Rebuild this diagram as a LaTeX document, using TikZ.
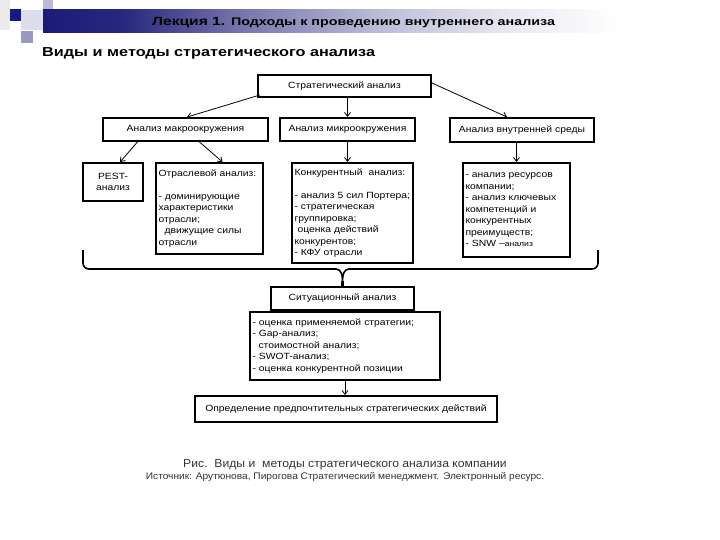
\documentclass[tikz,border=0pt]{standalone}
\usepackage{fontspec}
\setmainfont{Liberation Sans}
\newfontfamily\boxfont[FakeStretch=1.15]{Liberation Sans}
\newfontfamily\hdrfont[FakeStretch=1.3]{Liberation Sans}
\newfontfamily\ttlfont[FakeStretch=1.25]{Liberation Sans}
\newfontfamily\capfont[FakeStretch=1.06]{Liberation Sans}
\usetikzlibrary{arrows.meta,calc}
\definecolor{navy}{RGB}{28,28,120}
\pgfdeclarehorizontalshading{hdrshade}{100bp}{color(0bp)=(navy); color(25bp)=(navy); color(31bp)=(navy!95!white); color(40bp)=(navy!60!white); color(50bp)=(navy!30!white); color(60bp)=(navy!10!white); color(68bp)=(white); color(100bp)=(white)}
\tikzset{
  box/.style={draw=black, line width=1.9pt, inner ysep=0pt, inner xsep=2pt, font=\boxfont\fontsize{9}{11.5}\selectfont},
  arr/.style={-{Straight Barb[length=4pt,width=6pt]}, line width=0.8pt},
}
\begin{document}
\begin{tikzpicture}[x=1pt,y=-1pt]
\useasboundingbox (0,0) rectangle (720,540);
% decoration
\fill[black!8] (0,0) rectangle (10,30);
\fill[navy!15] (21,10) rectangle (43,30);
\fill[navy!30] (43,0) rectangle (53,23);
\fill[navy!45] (21,31) rectangle (33,43);
\shade[shading=hdrshade] (43,10) rectangle (710,33);
\fill[navy!90!blue] (10,9) rectangle (21,21);
% header
\node[anchor=base west, font=\hdrfont\bfseries\fontsize{12}{13}\selectfont, inner sep=0pt] (hdr) at (152,26) {Лекция 1. {\fontsize{11}{12}\selectfont Подходы к проведению внутреннего анализа}};
\node[anchor=base west, font=\ttlfont\bfseries\fontsize{13}{14}\selectfont, inner sep=0pt] (title) at (42,57) {Виды и методы стратегического анализа};
% boxes
\node[box, minimum width=173pt, minimum height=22pt] (strat) at (344.5,86) {Стратегический анализ};
\node[box, minimum width=165pt, minimum height=23pt] (macro) at (185.5,129.5) {Анализ макроокружения};
\node[box, minimum width=135pt, minimum height=23pt] (micro) at (347.5,129.5) {Анализ микроокружения};
\node[box, minimum width=144pt, minimum height=24pt] (inner) at (522,130) {Анализ внутренней среды};
\node[box, minimum width=60pt, minimum height=38pt, align=center] (pest) at (113,182) {PEST-\\анализ};
\node[box, minimum width=107pt, minimum height=91pt, text width=102pt, align=left] (otr) at (209.5,208.5) {Отраслевой анализ:\\[11.5pt]- доминирующие\\характеристики\\отрасли;\\\ \ движущие силы\\отрасли};
\node[box, minimum width=121pt, minimum height=100pt, text width=116pt, align=left] (konk) at (352.5,213) {Конкурентный\ \ анализ:\\[11.5pt]- анализ 5 сил Портера;\\- стратегическая\\группировка;\\\ оценка действий\\конкурентов;\\- КФУ отрасли};
\node[box, minimum width=107pt, minimum height=94pt, text width=102pt, align=left] (vlist) at (516.5,210) {- анализ ресурсов\\компании;\\- анализ ключевых\\компетенций и\\конкурентных\\преимуществ;\\- SNW –{\fontsize{7.5}{9}\selectfont анализ}};
\node[box, minimum width=143pt, minimum height=23pt] (sit) at (342.5,298.5) {Ситуационный анализ};
\node[box, minimum width=190pt, minimum height=68pt, text width=185pt, align=left] (list) at (345,346) {- оценка применяемой стратегии;\\- Gap-анализ;\\\ \ стоимостной анализ;\\- SWOT-анализ;\\- оценка конкурентной позиции};
\node[box, minimum width=302pt, minimum height=26pt] (opr) at (346,409) {Определение предпочтительных стратегических действий};
% arrows
\draw[arr] ([xshift=3pt,yshift=3pt]strat.south west) -- ([xshift=1.5pt]macro.north);
\draw[arr] ([yshift=3pt]strat.east) -- ([xshift=-15pt]inner.north);
\draw[arr] (micro.north |- strat.south) -- (micro.north);
\draw[arr] ([xshift=-48pt]macro.south) -- ([xshift=7pt]pest.north);
\draw[arr] ([xshift=14pt]macro.south) -- ([xshift=13pt]otr.north);
\draw[arr] (micro.south) -- (micro.south |- konk.north);
\draw[arr] (vlist.north |- inner.south) -- (vlist.north);
\draw[arr] (list.south) -- (list.south |- opr.north);
% brace
\coordinate (bl) at (83,250);
\coordinate (br) at (598,250);
\coordinate (cusp) at (342.5,281);
\draw[line width=1.6pt, line join=round] (bl) -- (83,263) to[out=-90,in=180] (89,269) -- (336,269) to[out=0,in=90] (cusp)
  (cusp) to[out=90,in=180] (349,269) -- (592,269) to[out=0,in=-90] (598,263) -- (br);
\draw[line width=2.4pt] (cusp) -- (sit.north);
% captions
\node[anchor=base, font=\capfont\fontsize{11.5}{13}\selectfont, text=black!80, inner sep=0pt] (cap) at (345,467) {Рис.\ \ Виды и\ \ методы стратегического анализа компании};
\node[anchor=base, font=\capfont\fontsize{9.6}{11}\selectfont, text=black!80, inner sep=0pt] (src) at (345,479) {Источник: Арутюнова, Пирогова Стратегический менеджмент. Электронный ресурс.};
\end{tikzpicture}
\end{document}
